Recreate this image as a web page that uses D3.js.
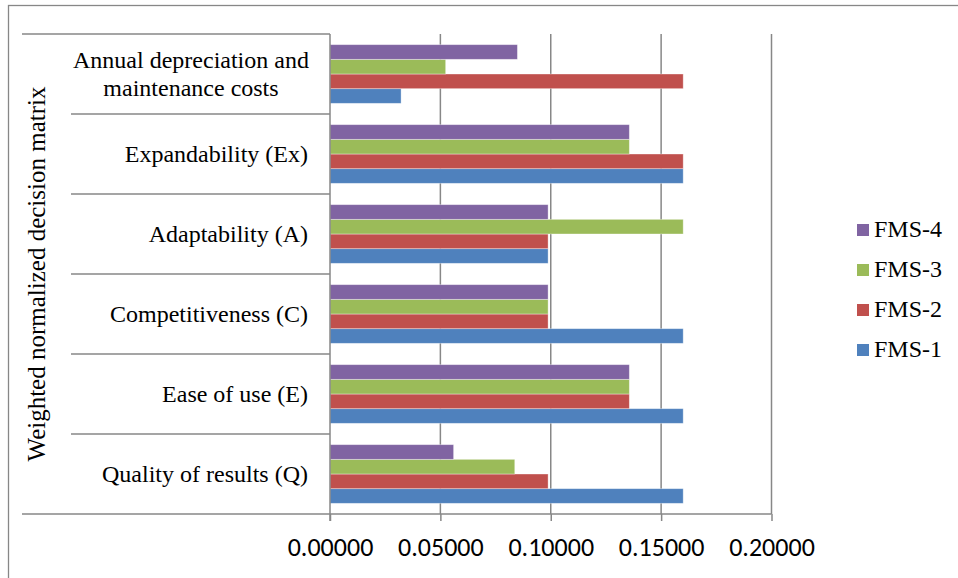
<!DOCTYPE html>
<html>
<head>
<meta charset="utf-8">
<script src="https://cdn.jsdelivr.net/npm/d3@7"></script>
<style>
  html, body { margin: 0; padding: 0; background: #fff; }
  svg { display: block; }
</style>
</head>
<body>
<svg id="chart" width="958" height="578"></svg>
<script>
// Categories listed bottom to top
const categories = [
  "Quality of results (Q)",
  "Ease of use (E)",
  "Competitiveness (C)",
  "Adaptability (A)",
  "Expandability (Ex)",
  "Annual depreciation and maintenance costs"
];
const seriesNames = ["FMS-1", "FMS-2", "FMS-3", "FMS-4"];
const fms1 = [0.1600, 0.1600, 0.1600, 0.0988, 0.1600, 0.0322];
const fms2 = [0.0988, 0.1356, 0.0988, 0.0988, 0.1600, 0.1600];
const fms3 = [0.0837, 0.1356, 0.0988, 0.1600, 0.1356, 0.0524];
const fms4 = [0.0560, 0.1356, 0.0988, 0.0988, 0.1356, 0.0849];
const xTicks = [0, 0.05, 0.10, 0.15, 0.20];
const colors = ["#4F81BD", "#C0504D", "#9BBB59", "#8064A2"];
const yTitle = "Weighted normalized decision matrix";

const seriesValues = [fms1, fms2, fms3, fms4];
const svg = d3.select("#chart");

const plot = { left: 330, right: 771.5, top: 34, bottom: 514 };
const grid = "#878787";

// outer border (top and left visible)
svg.append("rect").attr("x", 8.5).attr("y", 5.5).attr("width", 960).attr("height", 600)
  .attr("fill", "none").attr("stroke", grid).attr("stroke-width", 1.3);

const x = d3.scaleLinear().domain([0, 0.2]).range([plot.left, plot.right]);
const y = d3.scaleBand().domain(categories.slice().reverse()).range([plot.top, plot.bottom]);
const bandH = y.bandwidth();
const inner = d3.scaleBand().domain(seriesNames.slice().reverse())
  .range([bandH * 0.1333, bandH * 0.8667]);

// gridlines
svg.append("g").selectAll("line").data(xTicks.slice(1)).join("line")
  .attr("x1", d => x(d)).attr("x2", d => x(d))
  .attr("y1", plot.top).attr("y2", plot.bottom)
  .attr("stroke", grid).attr("stroke-width", 1.5);

// bars
const data = [];
categories.forEach((c, i) => {
  seriesNames.forEach((s, j) => data.push({ c, s, j, v: seriesValues[j][i] }));
});
svg.append("g").selectAll("rect").data(data).join("rect")
  .attr("x", x(0))
  .attr("y", d => y(d.c) + inner(d.s))
  .attr("width", d => x(d.v) - x(0))
  .attr("height", inner.bandwidth())
  .attr("fill", d => colors[d.j])
  .attr("stroke", "rgba(255,255,255,0.45)")
  .attr("stroke-width", 0.8);

// x axis
const xAxis = svg.append("g").attr("transform", `translate(0,${plot.bottom})`)
  .call(d3.axisBottom(x).tickValues(xTicks).tickFormat(d3.format(".5f")).tickSizeInner(7).tickSizeOuter(0));
xAxis.select(".domain").remove();
xAxis.selectAll(".tick line").attr("stroke", grid).attr("stroke-width", 1.5);
xAxis.selectAll(".tick text")
  .attr("y", 42).attr("dy", 0)
  .attr("font-family", "Carlito, Calibri, Lato, sans-serif")
  .attr("font-size", 26).attr("fill", "#000");

// axis lines
svg.append("line").attr("x1", 22).attr("x2", plot.right).attr("y1", plot.bottom).attr("y2", plot.bottom)
  .attr("stroke", grid).attr("stroke-width", 1.5);
svg.append("line").attr("x1", 22).attr("x2", plot.left).attr("y1", plot.top).attr("y2", plot.top)
  .attr("stroke", grid).attr("stroke-width", 1.5);
svg.append("line").attr("x1", plot.left).attr("x2", plot.left).attr("y1", plot.top).attr("y2", plot.bottom + 7)
  .attr("stroke", grid).attr("stroke-width", 1.5);
// category separators
svg.append("g").selectAll("line").data(categories.slice(0, -1)).join("line")
  .attr("x1", 71).attr("x2", plot.left)
  .attr("y1", d => y(d)).attr("y2", d => y(d))
  .attr("stroke", grid).attr("stroke-width", 1.5);

// category labels
const labelFont = "'Liberation Serif', 'Times New Roman', serif";
categories.forEach(c => {
  const cy = y(c) + bandH / 2;
  if (c.length > 30) {
    const k = c.indexOf(" and ") + 4;
    const lines = [c.slice(0, k), c.slice(k + 1)];
    lines.forEach((t, i) => {
      svg.append("text").attr("x", 191).attr("y", cy - 6 + i * 28)
        .attr("text-anchor", "middle").attr("font-family", labelFont).attr("font-size", 24)
        .text(t);
    });
  } else {
    svg.append("text").attr("x", 308).attr("y", cy + 8)
      .attr("text-anchor", "end").attr("font-family", labelFont).attr("font-size", 24)
      .text(c);
  }
});

// y title
svg.append("text")
  .attr("transform", `translate(45,${(plot.top + plot.bottom) / 2}) rotate(-90)`)
  .attr("text-anchor", "middle").attr("font-family", labelFont).attr("font-size", 25)
  .text(yTitle);

// legend (FMS-4 at top)
const legend = svg.append("g");
seriesNames.slice().reverse().forEach((s, i) => {
  const j = seriesNames.indexOf(s);
  const ly = 237 + i * 40;
  legend.append("rect").attr("x", 857).attr("y", ly - 13).attr("width", 12).attr("height", 12)
    .attr("fill", colors[j]);
  legend.append("text").attr("x", 874).attr("y", ly)
    .attr("font-family", labelFont).attr("font-size", 24).text(s);
});
</script>
</body>
</html>
